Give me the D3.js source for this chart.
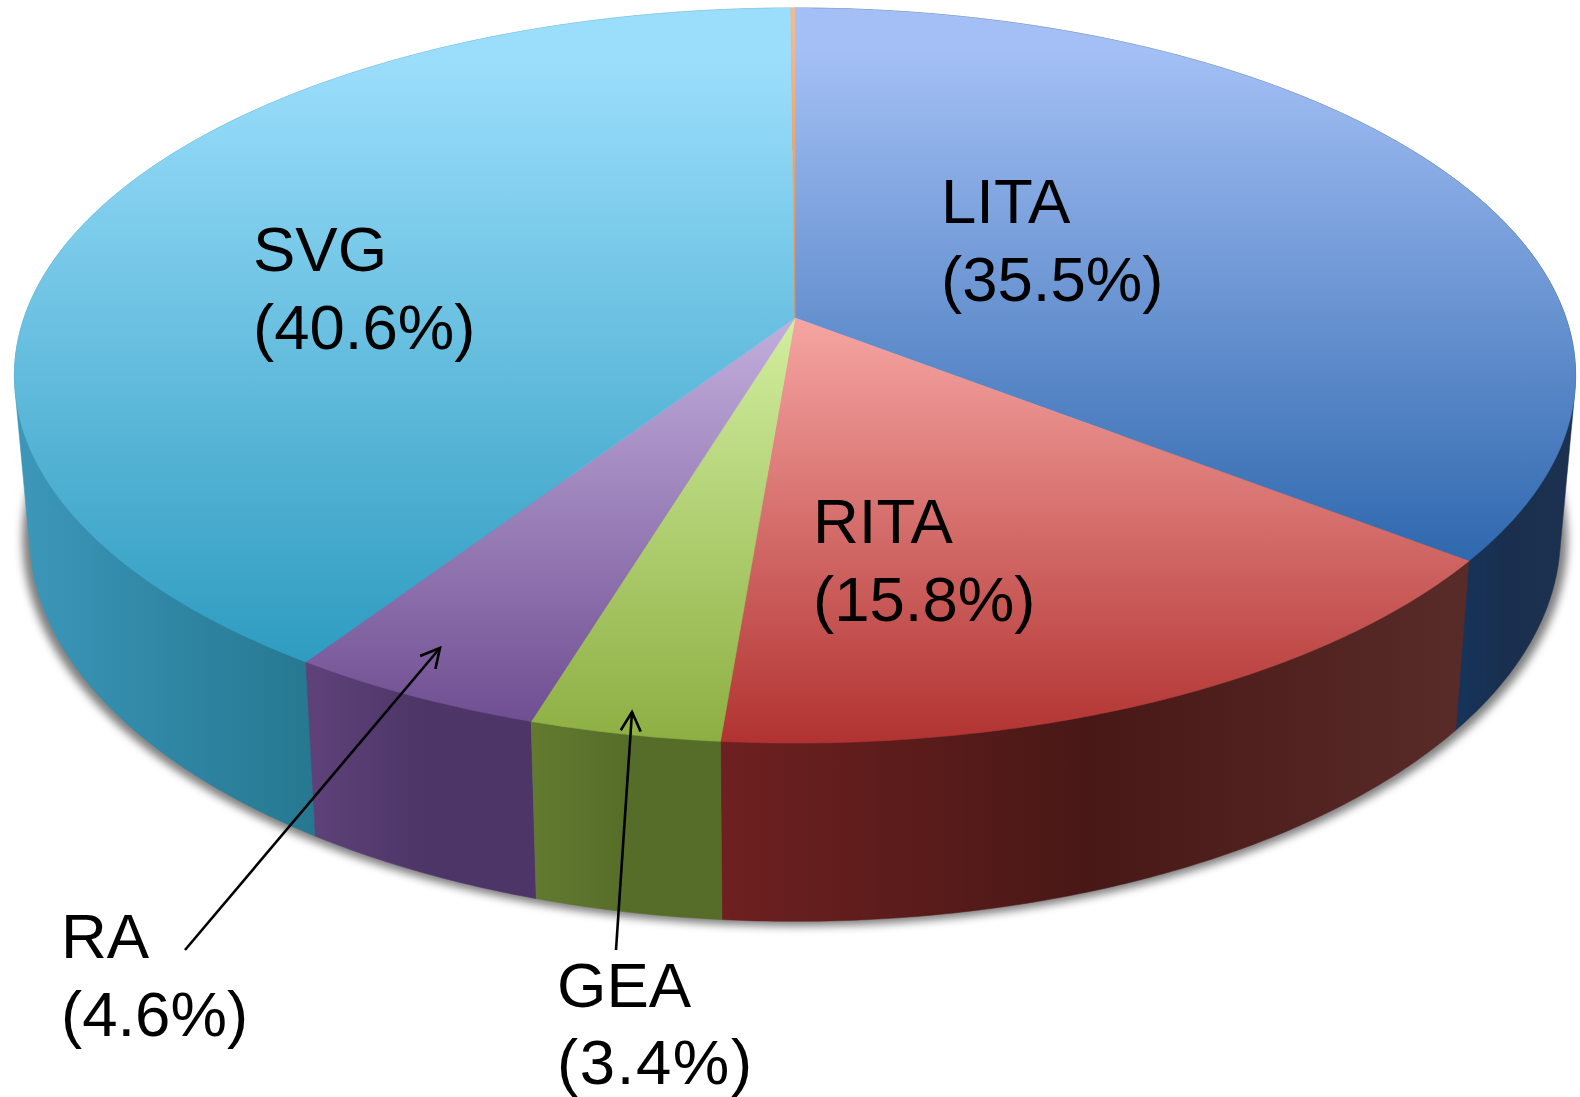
<!DOCTYPE html>
<html lang="en">

<head>
    <meta charset="utf-8">
    <title>3D pie</title>
    <script type="text/javascript" src="https://d3js.org/d3.v7.min.js"></script>
    <style>
        body { margin: 0; background: #fff; }
        svg { display: block; }
        text { font-family: "Liberation Sans", Arial, sans-serif; font-size: 63.5px; fill: #000; }
    </style>
</head>

<body>
<svg class="pieChart" width="1580" height="1097"></svg>

<script type="text/javascript">
    /* global d3 */
    // chart values, clockwise from 12 o'clock
    let categories = ["LITA", "RITA", "GEA", "RA", "SVG", "other"];
    let shares = [35.5, 15.8, 3.4, 4.6, 40.6, 0.1];
    let topColors = [
        ["#a3bff5", "#2f68ae"],
        ["#f6a5a2", "#b13331"],
        ["#d2eea0", "#8daf42"],
        ["#c2afdd", "#704e92"],
        ["#9bdefc", "#2e9cc0"],
        ["#f4b88e", "#e08a40"]
    ];
    // wall colours, left to right
    let sideColors = [
        ["#15345a", "#1a2e4e", "#1c3050"],
        ["#6e2020", "#481816", "#582a28"],
        ["#627a2f", "#556d28", "#556d28"],
        ["#5d4178", "#4d3567", "#4d3567"],
        ["#3c96b8", "#2f86a4", "#267890"],
        ["#c07030", "#c07030", "#c07030"]
    ];
    // labels: name, share line, x, first baseline, second baseline
    let labelNames = ["LITA", "RITA", "GEA", "RA", "SVG"];
    let labelShares = ["(35.5%)", "(15.8%)", "(3.4%)", "(4.6%)", "(40.6%)"];
    let labelX = [941, 813, 557, 61, 253];
    let labelY = [223, 543, 1007, 958, 271];
    let labelY2 = [301, 621, 1083.5, 1036, 349];
    // leader arrows [x1, y1, x2, y2]
    let arrows = [[185, 950, 440, 648], [616, 950, 632, 712]];

    // perspective of the disc: k is how much the far edge shrinks
    let k = 0.1565;
    let topDisc = {cx: 795, cy: 318, rx: 771, ry: 358.5};
    let bottomDisc = {cx: 795, cy: 475, rx: 756, ry: 376.5};
    let shadowDisc = {cx: 795, cy: 478, rx: 763, ry: 378};

    function project(disc, a) {
        let u = Math.sin(a), v = Math.cos(a);
        let d = 1 + k * v;
        return [disc.cx + disc.rx * u / d, disc.cy - disc.ry * v / d];
    }

    function rim(disc, a0, a1) {
        let n = Math.max(2, Math.ceil((a1 - a0) / 0.01));
        return d3.range(n + 1).map(i => project(disc, a0 + (a1 - a0) * i / n));
    }

    let canvas = d3.select(".pieChart");
    let defs = canvas.append("defs");
    let line = d3.line();

    let arcs = d3.pie().sort(null).startAngle(0).endAngle(2 * Math.PI)
        .value(d => d)(shares);

    // blurred shadow under the disc
    let blur = defs.append("filter").attr("id", "shadow")
        .attr("x", "-5%").attr("y", "-5%").attr("width", "110%").attr("height", "110%");
    blur.append("feGaussianBlur").attr("stdDeviation", 4);

    let head = defs.append("marker").attr("id", "head")
        .attr("markerUnits", "userSpaceOnUse")
        .attr("viewBox", "-22 -12 26 24")
        .attr("refX", 0).attr("refY", 0)
        .attr("markerWidth", 26).attr("markerHeight", 24)
        .attr("orient", "auto");
    head.append("path").attr("d", "M-19,-10L0,0L-19,10")
        .attr("fill", "none").attr("stroke", "#000").attr("stroke-width", 2.6);

    canvas.append("path")
        .attr("d", line(rim(shadowDisc, Math.PI / 2, 3 * Math.PI / 2)) + "Z")
        .attr("fill", "#000")
        .attr("fill-opacity", 0.5)
        .attr("filter", "url(#shadow)");

    // side walls, the hull of both rims, back to front
    let wallOrder = [5, 0, 4, 1, 3, 2];
    let sides = wallOrder.map(i => {
        let d = arcs[i];
        let up = rim(topDisc, d.startAngle, d.endAngle);
        let down = rim(bottomDisc, d.startAngle, d.endAngle);
        // the gradient only runs over the part that can be seen
        let a0 = Math.max(d.startAngle, Math.PI / 2);
        let a1 = Math.min(d.endAngle, 3 * Math.PI / 2);
        let xs = a1 > a0 ? d3.extent(rim(bottomDisc, a0, a1), p => p[0]) : [0, 1580];
        let grad = defs.append("linearGradient").attr("id", "side" + i)
            .attr("gradientUnits", "userSpaceOnUse")
            .attr("x1", xs[0]).attr("x2", xs[1]).attr("y1", 0).attr("y2", 0);
        sideColors[i].forEach((c, j) => {
            grad.append("stop").attr("offset", j / 2).attr("stop-color", c);
        });
        return {points: d3.polygonHull(up.concat(down)), i: i};
    });

    canvas.append("g").selectAll("path")
        .data(sides)
        .join("path")
        .attr("d", d => line(d.points) + "Z")
        .attr("fill", d => "url(#side" + d.i + ")")
        .attr("stroke", d => "url(#side" + d.i + ")")
        .attr("stroke-width", 0.5);

    // top faces
    let faces = arcs.map((d, i) => {
        let edge = rim(topDisc, d.startAngle, d.endAngle);
        let ys = d3.extent(edge.concat([[topDisc.cx, topDisc.cy]]), p => p[1]);
        let grad = defs.append("linearGradient").attr("id", "face" + i)
            .attr("gradientUnits", "userSpaceOnUse")
            .attr("x1", 0).attr("x2", 0).attr("y1", ys[0]).attr("y2", ys[1]);
        // slices that reach the far rim stay light a little longer
        let hold = ys[0] < topDisc.cy - 100 ? 0.08 : 0;
        grad.append("stop").attr("offset", hold).attr("stop-color", topColors[i][0]);
        grad.append("stop").attr("offset", 1).attr("stop-color", topColors[i][1]);
        return {points: [[topDisc.cx, topDisc.cy]].concat(edge), i: i, name: categories[i]};
    });

    canvas.append("g").selectAll("path")
        .data(faces)
        .join("path")
        .attr("class", d => d.name)
        .attr("d", d => line(d.points) + "Z")
        .attr("fill", d => "url(#face" + d.i + ")")
        .attr("stroke", d => "url(#face" + d.i + ")")
        .attr("stroke-width", 0.6);

    // leader arrows
    canvas.append("g").selectAll("line")
        .data(arrows)
        .join("line")
        .attr("x1", d => d[0]).attr("y1", d => d[1])
        .attr("x2", d => d[2]).attr("y2", d => d[3])
        .attr("stroke", "#000")
        .attr("stroke-width", 2.6)
        .attr("marker-end", "url(#head)");

    // labels
    labelNames.forEach((name, i) => {
        canvas.append("text").attr("x", labelX[i]).attr("y", labelY[i]).text(name);
        canvas.append("text").attr("x", labelX[i]).attr("y", labelY2[i])
            .attr("letter-spacing", name == "GEA" ? 1.6 : 0)
            .text(labelShares[i]);
    });
</script>
</body>

</html>
